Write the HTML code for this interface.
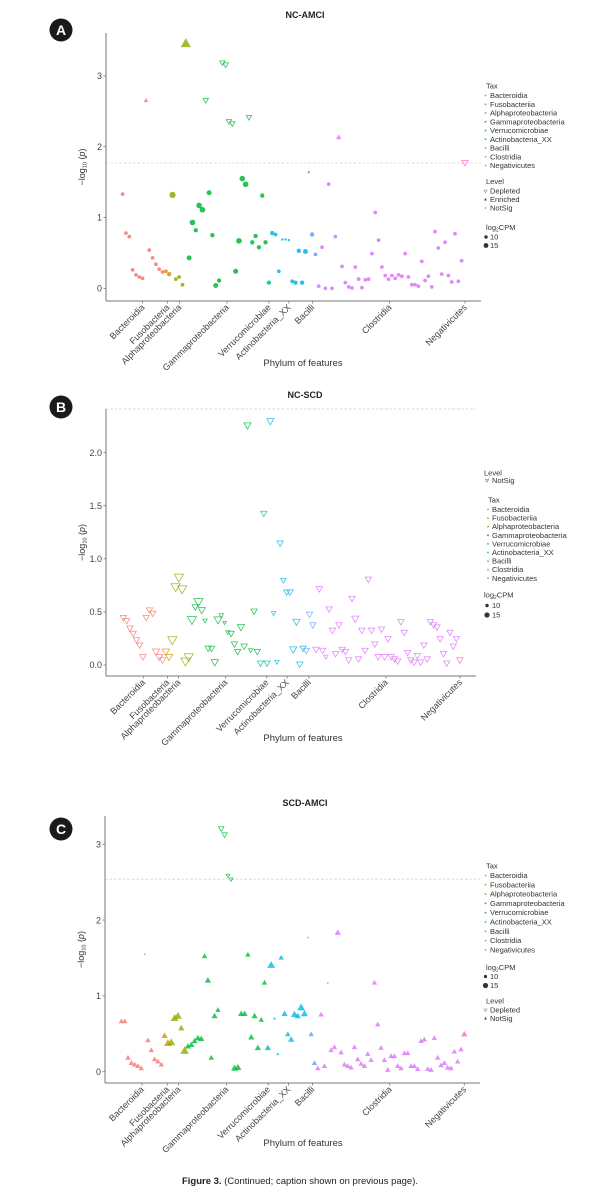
<!DOCTYPE html>
<html><head><meta charset="utf-8"><style>
html,body{margin:0;padding:0;background:#fff;}
svg{display:block;font-family:"Liberation Sans",sans-serif;}
</style></head><body>
<svg id="fig" width="600" height="1199" viewBox="0 0 600 1199" xmlns="http://www.w3.org/2000/svg"></svg>
<script>
// ---------- Data ----------
const taxNames = ["Bacteroidia","Fusobacteriia","Alphaproteobacteria","Gammaproteobacteria","Verrucomicrobiae","Actinobacteria_XX","Bacilli","Clostridia","Negativicutes"];
const taxColors = ["#F8766D","#D39200","#93AA00","#00BA38","#00C19F","#00B9E3","#619CFF","#DB72FB","#FF61C3"];
const tickLabels = ["Bacteroidia","Fusobacteria","Alphaproteobacteria","Gammaproteobacteria","Verrucomicrobiae","Actinobacteria_XX","Bacilli","Clostridia","Negativicutes"];

// Panel A: NC-AMCI
const aY = [1.33,0.78,0.73,0.26,0.19,0.16,0.14,2.65,0.54,0.43,0.34,0.27,0.23,
 0.24,0.20,
 1.32,0.13,0.16,0.05,3.45,
 0.43,0.93,0.82,1.17,1.11,2.66,1.35,0.75,0.04,0.11,3.19,3.16,2.36,2.33,0.24,0.67,1.55,1.47,2.42,0.65,0.74,0.58,1.31,0.65,
 0.08,
 0.78,0.76,0.24,0.69,0.69,0.68,0.10,0.08,0.53,0.08,0.52,
 1.64,0.76,0.48,
 0.03,0.58,0,1.47,0,0.73,2.13,0.31,0.08,0.02,0.005,0.30,0.13,0.01,0.12,0.13,0.49,1.07,0.68,0.30,0.18,0.13,0.18,0.14,0.19,0.17,0.49,0.16,0.05,0.05,0.03,0.38,0.11,0.17,0.02,0.80,0.57,0.20,0.65,0.18,0.09,0.77,0.10,0.39,
 1.78];
const aTax = [0,0,0,0,0,0,0,0,0,0,0,0,0, 1,1, 2,2,2,2,2,
 3,3,3,3,3,3,3,3,3,3,3,3,3,3,3,3,3,3,3,3,3,3,3,3,
 4, 5,5,5,5,5,5,5,5,5,5,5, 6,6,6,
 7,7,7,7,7,7,7,7,7,7,7,7,7,7,7,7,7,7,7,7,7,7,7,7,7,7,7,7,7,7,7,7,7,7,7,7,7,7,7,7,7,7,7,7,
 8];
const aLevel = ["N","N","N","N","N","N","N","E","N","N","N","N","N", "N","N", "N","N","N","N","E",
 "N","N","N","N","N","D","N","N","N","N","D","D","D","D","N","N","N","N","D","N","N","N","N","N",
 "N", "N","N","N","N","N","N","N","N","N","N","N", "N","N","N",
 "N","N","N","N","N","N","E","N","N","N","N","N","N","N","N","N","N","N","N","N","N","N","N","N","N","N","N","N","N","N","N","N","N","N","N","N","N","N","N","N","N","N","N","N",
 "D"];
const aCpm = [11,11,11,11,11,11,11,11,11,11,11,11,11, 11,12, 15,11,11,11,18,
 13,14,12,14,14,12,13,12,13,12,12,12,12,12,13,14,14,14,12,12,12,12,12,12,
 12, 12,11,11,9,9,9,11,12,12,12,13, 9,12,11,
 11,11,11,11,11,11,12,11,11,11,11,11,11,11,11,11,11,11,11,11,11,11,11,11,11,11,11,11,11,11,11,11,11,11,11,11,11,11,11,11,11,11,11,11,
 13];

// Panel B: NC-SCD
const bY = [0.45,0.42,0.35,0.30,0.24,0.19,0.08,0.45,0.52,0.49,0.13,0.08,0.05,
 0.13,0.08,
 0.24,0.74,0.83,0.72,0.04,0.08,
 0.43,0.55,0.60,0.52,0.42,0.16,0.16,0.03,0.43,0.47,0.40,0.31,0.30,0.20,0.13,0.36,0.18,2.26,0.14,0.51,0.13,
 0.02,1.43,0.02,
 2.30,0.49,0.03,1.15,0.80,0.69,0.69,0.15,0.41,0.01,0.16,
 0.14,0.48,0.38,
 0.15,0.72,0.14,0.08,0.53,0.33,0.11,0.38,0.15,0.13,0.05,0.63,0.44,0.06,0.33,0.14,0.81,0.33,0.20,0.08,0.34,0.08,0.25,0.08,0.06,0.04,0.41,0.31,0.12,0.05,0.03,0.09,0.03,0.19,0.06,0.41,0.38,0.36,0.25,0.11,0.02,0.31,0.18,0.25,
 0.05];
const bTax = [0,0,0,0,0,0,0,0,0,0,0,0,0, 1,1, 2,2,2,2,2,2,
 3,3,3,3,3,3,3,3,3,3,3,3,3,3,3,3,3,3,3,3,3,
 4,4,4, 5,5,5,5,5,5,5,5,5,5,5, 6,6,6,
 7,7,7,7,7,7,7,7,7,7,7,7,7,7,7,7,7,7,7,7,7,7,7,7,7,7,7,7,7,7,7,7,7,7,7,7,7,7,7,7,7,7,7,7,
 8];
const bCpm = [12,12,12,12,12,12,12,12,12,12,13,13,12,
 13,13,
 15,15,15,15,15,15,
 15,12,15,13,10,12,12,13,14,10,9,10,12,12,12,13,12,13,10,12,12,
 12,12,12,
 13,10,10,12,11,12,12,13,13,12,12,
 12,12,12,
 12,12,12,10,12,12,12,12,12,12,12,12,13,12,12,12,12,12,12,12,12,12,12,12,12,12,12,12,12,12,12,12,12,12,12,12,12,12,12,12,12,12,12,12,
 12];

// Panel C: SCD-AMCI
const cY = [0.66,0.66,0.18,0.11,0.09,0.07,0.04,1.55,0.41,0.28,0.16,0.13,0.09,
 0.47,0.37,
 0.38,0.70,0.73,0.57,0.27,
 0.33,0.35,0.40,0.44,0.43,1.52,1.20,0.18,0.73,0.81,3.21,3.13,2.59,2.54,0.04,0.05,0.76,0.76,1.54,0.45,0.73,0.31,0.68,1.17,
 0.31,
 1.40,0.70,0.23,1.50,0.76,0.49,0.42,0.75,0.73,0.84,0.76,
 1.77,0.49,0.11,
 0.04,0.75,0.07,1.17,0.28,0.32,1.83,0.25,0.09,0.07,0.05,0.32,0.16,0.10,0.07,0.23,0.15,1.17,0.62,0.31,0.15,0.02,0.20,0.20,0.07,0.04,0.24,0.24,0.07,0.07,0.03,0.40,0.42,0.03,0.02,0.44,0.18,0.08,0.11,0.05,0.04,0.26,0.13,0.29,
 0.49];
const cTax = aTax;
const cLevel = ["N","N","N","N","N","N","N","N","N","N","N","N","N", "N","N", "N","N","N","N","N",
 "N","N","N","N","N","N","N","N","N","N","D","D","D","D","N","N","N","N","N","N","N","N","N","N",
 "N", "N","N","N","N","N","N","N","N","N","N","N", "N","N","N",
 "N","N","N","N","N","N","N","N","N","N","N","N","N","N","N","N","N","N","N","N","N","N","N","N","N","N","N","N","N","N","N","N","N","N","N","N","N","N","N","N","N","N","N","N",
 "N"];
const cCpm = [12,12,12,12,12,12,12,8,12,12,12,12,12,
 13,15,
 15,15,15,13,16,
 13,13,13,13,13,12,13,12,13,12,12,12,10,10,14,14,13,13,12,13,13,13,12,12,
 13,
 15,9,9,12,13,12,13,14,13,15,14,
 8,12,12,
 12,12,12,8,12,12,13,12,12,12,12,12,12,12,12,12,12,12,12,12,12,12,12,12,12,12,12,12,12,12,12,12,12,12,12,12,12,12,12,12,12,12,12,12,
 13];

const aTicks = [7.0,14.5,18.1,32.4,45.0,51.0,58.1,81.3,104];
const bTicks = [7.1,14.5,17.9,32.3,44.9,51.1,57.8,81.4,104.1];
const cTicks = [7.2,14.8,18.2,32.6,45.1,51.2,58.4,81.6,104];

const aYTicks = [0,1,2,3];
const bYTicks = [0,0.5,1,1.5,2];
const cYTicks = [0,1,2,3];
const aThreshold = 1.77, bThreshold = 2.41, cThreshold = 2.54;

// ---------- Rendering ----------
const NS = "http://www.w3.org/2000/svg";
const svg = document.getElementById("fig");
function mk(tag, attrs, parent){
  const e = document.createElementNS(NS, tag);
  for (const k in attrs) e.setAttribute(k, attrs[k]);
  (parent||svg).appendChild(e);
  return e;
}
function rad(c){ return 0.9 + (c-8)*0.32; }

function drawPanel(cfg){
  const g = mk("g", {});
  
  
  const xs = i => 80 + (cfg.x0 + (i-1)*cfg.step)/3;
  const ys = v => cfg.y0 - v*cfg.ppu;

  // badge
  const bc = mk("circle", {cx:61, cy:cfg.badgeY, r:11.5, fill:"#1a1a1a"}, g);
  
  
  const bt = mk("text", {x:61, y:cfg.badgeY+5, "text-anchor":"middle", "font-size":"14", "font-weight":"bold", fill:"#fff"}, g);
  bt.textContent = cfg.letter;
  
  

  // title
  const tt = mk("text", {x:305, y:cfg.titleY, "text-anchor":"middle", "font-size":"9", "font-weight":"bold", fill:"#222"}, g);
  tt.textContent = cfg.title;
  
  

  // threshold
  const th = mk("line", {x1:cfg.left, x2:cfg.right, y1:ys(cfg.thr), y2:ys(cfg.thr), stroke:"#d8d0d0", "stroke-width":"0.8", "stroke-dasharray":"2.5,2"}, g);
  
  

  // axes
  const ya = mk("line", {x1:cfg.left, x2:cfg.left, y1:cfg.top, y2:cfg.bottom, stroke:"#777", "stroke-width":"1"}, g);
  
  
  const xa = mk("line", {x1:cfg.left, x2:cfg.right, y1:cfg.bottom, y2:cfg.bottom, stroke:"#777", "stroke-width":"1"}, g);
  
  

  cfg.yTicks.forEach(v => {
    const y = ys(v);
    const tk = mk("line", {x1:cfg.left-2.5, x2:cfg.left, y1:y, y2:y, stroke:"#777", "stroke-width":"0.8"}, g);
    
    
    const tl = mk("text", {x:cfg.left-4, y:y+3.2, "text-anchor":"end", "font-size":"9", fill:"#444"}, g);
    tl.textContent = cfg.yFmt(v);
    
    
  });
  const yt = mk("text", {x:0, y:0, "text-anchor":"middle", "font-size":"9", fill:"#333", transform:`translate(${cfg.left-21},${(cfg.top+cfg.bottom)/2}) rotate(-90)`}, g);
  yt.innerHTML = '−log<tspan font-size="5.5" dy="1.5">10</tspan><tspan dy="-1.5"> (</tspan><tspan font-style="italic">p</tspan>)';
  
  

  cfg.ticks.forEach((t, k) => {
    const x = xs(t);
    const tk = mk("line", {x1:x, x2:x, y1:cfg.bottom, y2:cfg.bottom+2.5, stroke:"#777", "stroke-width":"0.8"}, g);
    
    
    const tl = mk("text", {x:0, y:0, "text-anchor":"end", "font-size":"9", fill:"#444", transform:`translate(${x+2.5},${cfg.bottom+7}) rotate(-45)`}, g);
    tl.textContent = tickLabels[k];
    
    
  });
  const xt = mk("text", {x:303, y:cfg.xTitleY, "text-anchor":"middle", "font-size":"9.5", fill:"#333"}, g);
  xt.textContent = "Phylum of features";
  
  

  // points
  cfg.yv.forEach((v, k) => {
    const x = xs(k+1), y = ys(v);
    const col = taxColors[cfg.tax[k]];
    const r = rad(cfg.cpm[k]) * (cfg.scale || 1);
    const shape = cfg.shapeMap[cfg.level[k]];
    let el;
    if (shape === "c") {
      el = mk("circle", {cx:x, cy:y, r:r, fill:col, "fill-opacity":"0.85"}, g);
    } else if (shape === "u") {
      const s = r*1.25;
      el = mk("polygon", {points:`${x},${y-s*1.15} ${x-s},${y+s*0.6} ${x+s},${y+s*0.6}`, fill:col, "fill-opacity":"0.8"}, g);
    } else {
      const s = r*1.25;
      el = mk("polygon", {points:`${x},${y+s*1.15} ${x-s},${y-s*0.6} ${x+s},${y-s*0.6}`, fill:"none", stroke:col, "stroke-width":"0.75", "stroke-opacity":"0.85"}, g);
    }
    
    
  });

  // legend
  cfg.legend.forEach(item => {
    const t = mk("text", {x:item.x, y:item.y+2.5, "font-size":"7.5", fill:"#333"}, g);
    if (item.html) t.innerHTML = item.html; else t.textContent = item.text;
    
    
    if (item.mark) {
      const m = item.mark;
      let me;
      if (m.t === "c") me = mk("circle", {cx:m.x, cy:item.y, r:m.r, fill:m.c}, g);
      else if (m.t === "u") me = mk("polygon", {points:`${m.x},${item.y-1.6} ${m.x-1.4},${item.y+1} ${m.x+1.4},${item.y+1}`, fill:m.c}, g);
      else me = mk("polygon", {points:`${m.x},${item.y+1.6} ${m.x-1.6},${item.y-1} ${m.x+1.6},${item.y-1}`, fill:"none", stroke:m.c, "stroke-width":"0.6"}, g);
      
      
    }
  });
}

function taxLegend(x0, y0, step, mx){
  const out = [{x:x0-4, y:y0-9.5, text:"Tax", nm:"legend-title-tax"}];
  taxNames.forEach((n,i) => out.push({x:x0, y:y0+i*step, text:n, nm:"legend-entry-tax", mark:{t:"c", x:mx, r:0.9, c:taxColors[i]}}));
  return out;
}
const cpmHtml = 'log<tspan font-size="5" dy="1.5">2</tspan><tspan dy="-1.5">CPM</tspan>';

const legA = taxLegend(490, 95.5, 8.75, 485.5).concat([
  {x:486, y:181.5, text:"Level", nm:"legend-title-level"},
  {x:490, y:191, text:"Depleted", nm:"legend-entry-level", mark:{t:"d", x:485.5, c:"#888"}},
  {x:490, y:199.5, text:"Enriched", nm:"legend-entry-level", mark:{t:"u", x:485.5, c:"#444"}},
  {x:490, y:208, text:"NotSig", nm:"legend-entry-level", mark:{t:"c", x:485.5, r:0.8, c:"#888"}},
  {x:486, y:227.5, html:cpmHtml, nm:"legend-title-cpm"},
  {x:490, y:237, text:"10", nm:"legend-entry-cpm", mark:{t:"c", x:486, r:1.7, c:"#333"}},
  {x:490, y:245.5, text:"15", nm:"legend-entry-cpm", mark:{t:"c", x:486, r:2.4, c:"#333"}}
]);
const legB = [
  {x:484, y:473, text:"Level", nm:"legend-title-level"},
  {x:492, y:480.5, text:"NotSig", nm:"legend-entry-level", mark:{t:"d", x:487, c:"#666"}}
].concat(taxLegend(492, 509.5, 8.6, 488)).concat([
  {x:484, y:595, html:cpmHtml, nm:"legend-title-cpm"},
  {x:492, y:605.5, text:"10", nm:"legend-entry-cpm", mark:{t:"c", x:487, r:1.7, c:"#333"}},
  {x:492, y:615, text:"15", nm:"legend-entry-cpm", mark:{t:"c", x:487, r:2.6, c:"#333"}}
]);
const legC = taxLegend(490, 875.5, 9.3, 485.5).concat([
  {x:486, y:967.5, html:cpmHtml, nm:"legend-title-cpm"},
  {x:490, y:976.5, text:"10", nm:"legend-entry-cpm", mark:{t:"c", x:485.5, r:1.6, c:"#333"}},
  {x:490, y:985.5, text:"15", nm:"legend-entry-cpm", mark:{t:"c", x:485.5, r:2.6, c:"#333"}},
  {x:486, y:1001, text:"Level", nm:"legend-title-level"},
  {x:490, y:1010, text:"Depleted", nm:"legend-entry-level", mark:{t:"d", x:485.5, c:"#888"}},
  {x:490, y:1018.5, text:"NotSig", nm:"legend-entry-level", mark:{t:"u", x:485.5, c:"#444"}}
]);

drawPanel({name:"nc-amci", letter:"A", title:"NC-AMCI", badgeY:30, titleY:18,
  left:106, right:481, top:33, bottom:301, y0:288.3, ppu:70.8, x0:128, step:9.97,
  thr:aThreshold, yTicks:aYTicks, yFmt:v=>String(v), ticks:aTicks, xTitleY:366,
  yv:aY, tax:aTax, level:aLevel, cpm:aCpm, shapeMap:{N:"c", E:"u", D:"d"}, legend:legA});
drawPanel({name:"nc-scd", letter:"B", title:"NC-SCD", badgeY:407, titleY:398,
  left:106, right:476, top:409, bottom:676, y0:665, ppu:106.2, x0:130, step:9.8,
  thr:bThreshold, yTicks:bYTicks, yFmt:v=>v.toFixed(1), ticks:bTicks, xTitleY:741,
  yv:bY, tax:bTax, level:bY.map(()=>"N"), cpm:bCpm, shapeMap:{N:"d"}, scale:1.15, legend:legB});
drawPanel({name:"scd-amci", letter:"C", title:"SCD-AMCI", badgeY:829, titleY:806,
  left:105, right:480, top:816, bottom:1083, y0:1071.7, ppu:75.8, x0:124, step:9.99,
  thr:cThreshold, yTicks:cYTicks, yFmt:v=>String(v), ticks:cTicks, xTitleY:1146,
  yv:cY, tax:cTax, level:cLevel, cpm:cCpm, shapeMap:{N:"u", D:"d"}, legend:legC});

const cap = mk("text", {x:300, y:1184, "text-anchor":"middle", "font-size":"9.5", fill:"#222"});
cap.innerHTML = '<tspan font-weight="bold">Figure 3.</tspan> (Continued; caption shown on previous page).';


</script>
</body></html>
